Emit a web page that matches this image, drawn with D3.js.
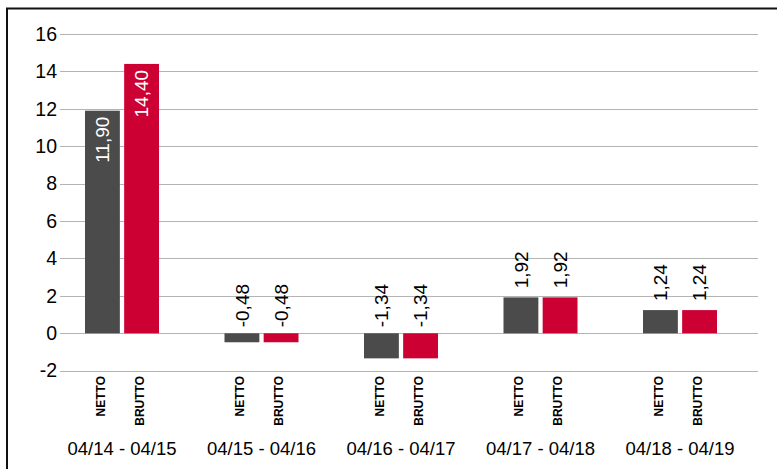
<!DOCTYPE html>
<html>
<head>
<meta charset="utf-8">
<script src="https://cdn.jsdelivr.net/npm/d3@7"></script>
<style>
  html, body { margin: 0; padding: 0; background: #fff; }
  svg { display: block; font-family: "Liberation Sans", Arial, Helvetica, sans-serif; }
</style>
</head>
<body>
<svg id="chart" width="777" height="469"></svg>
<script>
const categories = ["04/14 - 04/15", "04/15 - 04/16", "04/16 - 04/17", "04/17 - 04/18", "04/18 - 04/19"];
const seriesNames = ["NETTO", "BRUTTO"];
const nettoValues = [11.90, -0.48, -1.34, 1.92, 1.24];
const bruttoValues = [14.40, -0.48, -1.34, 1.92, 1.24];
const yTicks = [-2, 0, 2, 4, 6, 8, 10, 12, 14, 16];
const seriesColors = ["#4b4b4b", "#cc0033"];

const seriesValues = [nettoValues, bruttoValues];
const data = categories.map((c, i) => ({
  cat: c,
  values: seriesNames.map((s, j) => ({ series: s, value: seriesValues[j][i], color: seriesColors[j] }))
}));

const svg = d3.select("#chart");

// frame
svg.append("rect")
  .attr("x", 7).attr("y", 8.5)
  .attr("width", 800).attr("height", 500)
  .attr("fill", "none").attr("stroke", "#111").attr("stroke-width", 2);

const y = d3.scaleLinear().domain([-2, 16]).range([370.7, 34]);
const x0 = d3.scaleBand().domain(categories).range([52.25, 749.75]);
const x1 = d3.scaleBand().domain(seriesNames).range([-37, 37]).paddingInner(0.11);

const gridLeft = 60, gridRight = 758;

const yAxis = d3.axisLeft(y).tickValues(yTicks).tickSize(0).tickPadding(0)
  .tickFormat(d => String(d));
const ga = svg.append("g").attr("transform", `translate(${gridLeft},0)`).call(yAxis);
ga.select(".domain").remove();
ga.selectAll(".tick line").remove();
ga.selectAll(".tick text")
  .attr("x", -3)
  .attr("font-size", 19.5)
  .attr("fill", "#000")
  .attr("font-family", "\"Liberation Sans\", Arial, Helvetica, sans-serif");

svg.append("g").selectAll("line").data(yTicks).join("line")
  .attr("x1", gridLeft).attr("x2", gridRight)
  .attr("y1", d => Math.round(y(d)) + 0.5).attr("y2", d => Math.round(y(d)) + 0.5)
  .attr("stroke", "#b4b4b4").attr("stroke-width", 1.2);

const groups = svg.append("g").selectAll("g").data(data).join("g")
  .attr("transform", d => `translate(${x0(d.cat) + x0.bandwidth() / 2},0)`);

groups.selectAll("rect").data(d => d.values).join("rect")
  .attr("x", d => x1(d.series))
  .attr("width", x1.bandwidth())
  .attr("y", d => y(Math.max(0, d.value)))
  .attr("height", d => Math.abs(y(d.value) - y(0)))
  .attr("fill", d => d.color);

const fmt = v => v.toFixed(2).replace(".", ",");
const inside = d => d.value > 0 && Math.abs(y(d.value) - y(0)) > 60;

groups.selectAll("text.val").data(d => d.values).join("text")
  .attr("class", "val")
  .attr("font-size", 19)
  .attr("dy", "0.35em")
  .attr("transform", d => {
    const cx = x1(d.series) + x1.bandwidth() / 2;
    let yy;
    if (inside(d)) yy = y(d.value) + 6;
    else if (d.value >= 0) yy = y(d.value) - 9;
    else yy = y(0) - 6;
    return `translate(${cx},${yy}) rotate(-90)`;
  })
  .attr("text-anchor", d => inside(d) ? "end" : "start")
  .attr("fill", d => inside(d) ? "#fff" : "#000")
  .text(d => fmt(d.value));

groups.selectAll("text.ser").data(d => d.values).join("text")
  .attr("class", "ser")
  .attr("font-size", 12)
  .attr("font-weight", "bold")
  .attr("dy", "0.35em")
  .attr("text-anchor", "end")
  .attr("transform", d => `translate(${x1(d.series) + x1.bandwidth() / 2 - 2},376) rotate(-90)`)
  .text(d => d.series);

groups.append("text")
  .attr("text-anchor", "middle")
  .attr("y", 455)
  .attr("font-size", 18.5)
  .attr("fill", "#000")
  .text(d => d.cat);
</script>
</body>
</html>
